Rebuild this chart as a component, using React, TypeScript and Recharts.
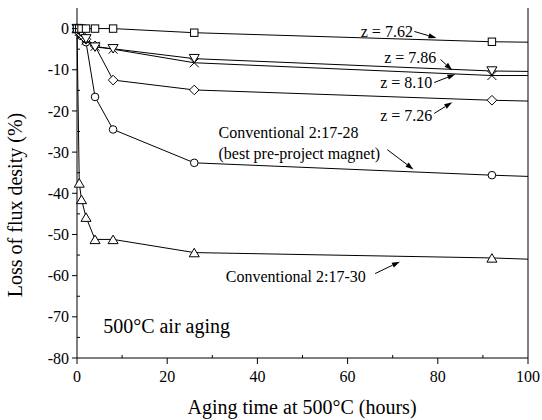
import React from 'react';
import { LineChart, Line, XAxis, YAxis, ReferenceDot, ReferenceLine } from 'recharts';

const HOURS = [0, 0.5, 1, 2, 4, 8, 26, 92, 100];
// last point only carries the line on to the frame, no marker there
const MARKED = [true, true, true, true, true, true, true, true, false];

const Z762 = [0, 0, 0, 0, 0, 0, -1.0, -3.2, -3.3];
const Z786 = [0, -0.5, -1.0, -2.5, -4.5, -4.9, -7.3, -10.3, -10.4];
const Z810 = [0, -0.7, -1.3, -2.8, -4.3, -5.0, -8.3, -11.4, -11.4];
const Z726 = [0, -1.0, -1.5, -2.6, -4.2, -12.5, -14.9, -17.4, -17.6];
const CONV28 = [0, -0.8, -1.8, -3.3, -16.6, -24.5, -32.6, -35.6, -35.9];
const CONV30 = [0, -37.5, -41.5, -45.8, -51.2, -51.2, -54.4, -55.7, -56.0];

const X_TICKS = [0, 10, 20, 30, 40, 50, 60, 70, 80, 90, 100];
const Y_TICKS = [-80, -75, -70, -65, -60, -55, -50, -45, -40, -35, -30, -25, -20, -15, -10, -5, 0];

const NOTE_TEXT = ['z = 7.62', 'z = 7.86', 'z = 8.10', 'z = 7.26', 'Conventional 2:17-28', '(best pre-project magnet)', 'Conventional 2:17-30'];
const NOTE_X = [68.7, 73.9, 73.0, 73.0, 46.9, 49.3, 48.5];
const NOTE_Y = [-0.6, -7.1, -13.0, -21.1, -25.2, -30.2, -60.2];

const ARROW_FROM_X = [74.8, 80.6, 79.2, 79.2, 68.8, 66.1];
const ARROW_FROM_Y = [-0.7, -7.5, -13.1, -20.6, -29.4, -59.5];
const ARROW_TO_X = [79.7, 83.2, 83.9, 83.2, 74.6, 71.6];
const ARROW_TO_Y = [-2.3, -10.1, -11.1, -17.9, -34.2, -56.6];

const data = HOURS.map((h, i) => ({
  h,
  z762: Z762[i],
  z786: Z786[i],
  z810: Z810[i],
  z726: Z726[i],
  c28: CONV28[i],
  c30: CONV30[i],
}));

const FONT = '"Liberation Serif", "Times New Roman", serif';

const marker = (kind: string) => (props: any) => {
  const { cx, cy, index } = props;
  const key = `${kind}-${index}`;
  if (!MARKED[index] || cx == null || cy == null) return <g key={key} />;
  const s = { fill: '#fff', stroke: '#000', strokeWidth: 1 };
  switch (kind) {
    case 'square':
      return <rect key={key} x={cx - 3.7} y={cy - 3.7} width={7.4} height={7.4} {...s} />;
    case 'circle':
      return <circle key={key} cx={cx} cy={cy} r={3.8} {...s} />;
    case 'up':
      return <polygon key={key} points={`${cx},${cy - 4.3} ${cx - 5},${cy + 4.2} ${cx + 5},${cy + 4.2}`} {...s} />;
    case 'down':
      return <polygon key={key} points={`${cx},${cy + 4.3} ${cx - 5},${cy - 4.2} ${cx + 5},${cy - 4.2}`} {...s} />;
    case 'diamond':
      return <polygon key={key} points={`${cx},${cy - 4.8} ${cx + 4.8},${cy} ${cx},${cy + 4.8} ${cx - 4.8},${cy}`} {...s} />;
    default:
      return (
        <g key={key} stroke="#000" strokeWidth={1}>
          <line x1={cx - 4.5} y1={cy - 4.5} x2={cx + 4.5} y2={cy + 4.5} />
          <line x1={cx - 4.5} y1={cy + 4.5} x2={cx + 4.5} y2={cy - 4.5} />
        </g>
      );
  }
};

const LeftTick = (props: any) => {
  const { x, y, payload } = props;
  const major = payload.value % 10 === 0;
  return (
    <g>
      <line x1={x} x2={major ? x - 5 : x + 3} y1={y} y2={y} stroke="#000" />
      {major && (
        <text x={x - 8} y={y} dy="0.35em" textAnchor="end" fontFamily={FONT} fontSize={16} fill="#000">
          {payload.value}
        </text>
      )}
    </g>
  );
};

const RightTick = (props: any) => {
  const { x, y } = props;
  return <line x1={x} x2={x + 3} y1={y} y2={y} stroke="#000" />;
};

const BottomTick = (props: any) => {
  const { x, y, payload } = props;
  const major = payload.value % 20 === 0;
  return (
    <g>
      <line x1={x} x2={x} y1={y} y2={major ? y + 6 : y - 3} stroke="#000" />
      {major && (
        <text x={x} y={y + 18.5} dy="0.35em" textAnchor="middle" fontFamily={FONT} fontSize={16} fill="#000">
          {payload.value}
        </text>
      )}
    </g>
  );
};

const Arrow = (props: any) => {
  const { x1, y1, x2, y2 } = props;
  const a = Math.atan2(y2 - y1, x2 - x1);
  const len = 8;
  const hw = 2.6;
  const bx = x2 - len * Math.cos(a);
  const by = y2 - len * Math.sin(a);
  const px = -Math.sin(a) * hw;
  const py = Math.cos(a) * hw;
  return (
    <g>
      <line x1={x1} y1={y1} x2={bx} y2={by} stroke="#000" strokeWidth={1} />
      <polygon points={`${x2},${y2} ${bx + px},${by + py} ${bx - px},${by - py}`} fill="#000" />
    </g>
  );
};

const noteShape = (text: string, anchor: string, size: number) => (props: any) => (
  <text x={props.cx} y={props.cy} dy="0.35em" textAnchor={anchor} fontFamily={FONT} fontSize={size} fill="#000">
    {text}
  </text>
);

const App: React.FC = () => {
  return (
    <div style={{ position: 'absolute', left: 0, top: 0, width: 542, height: 420, background: '#fff' }}>
      <LineChart width={542} height={420} data={data} margin={{ top: 8, right: 0, bottom: 0, left: 0 }}>
        <XAxis
          dataKey="h"
          type="number"
          domain={[0, 100]}
          ticks={X_TICKS}
          interval={0}
          height={62}
          tickSize={0}
          tickMargin={0}
          tickLine={false}
          tick={<BottomTick />}
          axisLine={{ stroke: '#000' }}
        />
        <XAxis
          xAxisId="top"
          orientation="top"
          dataKey="h"
          type="number"
          domain={[0, 100]}
          height={0}
          tick={false}
          tickLine={false}
          axisLine={{ stroke: '#000' }}
        />
        <YAxis
          type="number"
          domain={[-80, 5]}
          ticks={Y_TICKS}
          interval={0}
          width={77}
          tickSize={0}
          tickMargin={0}
          tickLine={false}
          tick={<LeftTick />}
          axisLine={{ stroke: '#000' }}
        />
        <YAxis
          yAxisId="right"
          orientation="right"
          type="number"
          domain={[-80, 5]}
          ticks={Y_TICKS}
          interval={0}
          width={14}
          tickSize={0}
          tickMargin={0}
          tickLine={false}
          tick={<RightTick />}
          axisLine={{ stroke: '#000' }}
        />
        <Line dataKey="c30" stroke="#000" strokeWidth={1} dot={marker('up')} isAnimationActive={false} />
        <Line dataKey="c28" stroke="#000" strokeWidth={1} dot={marker('circle')} isAnimationActive={false} />
        <Line dataKey="z726" stroke="#000" strokeWidth={1} dot={marker('diamond')} isAnimationActive={false} />
        <Line dataKey="z810" stroke="#000" strokeWidth={1} dot={marker('cross')} isAnimationActive={false} />
        <Line dataKey="z786" stroke="#000" strokeWidth={1} dot={marker('down')} isAnimationActive={false} />
        <Line dataKey="z762" stroke="#000" strokeWidth={1} dot={marker('square')} isAnimationActive={false} />
        {NOTE_TEXT.map((t, i) => (
          <ReferenceDot key={`n${i}`} x={NOTE_X[i]} y={NOTE_Y[i]} r={0} ifOverflow="visible" shape={noteShape(t, 'middle', 16)} />
        ))}
        <ReferenceDot x={5.8} y={-72.3} r={0} ifOverflow="visible" shape={noteShape('500°C air aging', 'start', 20)} />
        {ARROW_FROM_X.map((fx, i) => (
          <ReferenceLine
            key={`a${i}`}
            segment={[
              { x: fx, y: ARROW_FROM_Y[i] },
              { x: ARROW_TO_X[i], y: ARROW_TO_Y[i] },
            ]}
            ifOverflow="visible"
            shape={Arrow}
          />
        ))}
      </LineChart>
      <svg width={542} height={420} style={{ position: 'absolute', left: 0, top: 0, pointerEvents: 'none' }}>
        <text x={302} y={407} dy="0.35em" textAnchor="middle" fontFamily={FONT} fontSize={20} fill="#000">
          Aging time at 500°C (hours)
        </text>
        <text x={22} y={205} textAnchor="middle" fontFamily={FONT} fontSize={20} fill="#000" transform="rotate(-90 22 205)">
          Loss of flux desity (%)
        </text>
      </svg>
    </div>
  );
};

export default App;
